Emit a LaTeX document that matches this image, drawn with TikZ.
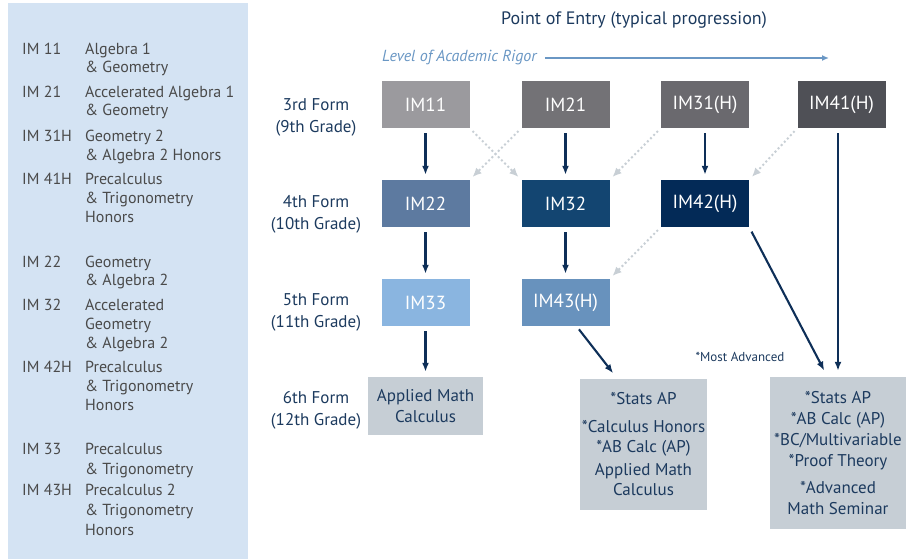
\documentclass[tikz,border=0pt]{standalone}
\usepackage{fontspec}
\setmainfont{PT Sans}
\usetikzlibrary{arrows.meta}
\definecolor{panelblue}{HTML}{D4E3F3}
\definecolor{leggray}{HTML}{4A4A4A}
\definecolor{navy}{HTML}{1C3A5E}
\definecolor{rigorblue}{HTML}{6A97C4}
\definecolor{arrowblue}{HTML}{0E2F58}
\definecolor{dotgray}{HTML}{C8CFD5}
\definecolor{endgray}{HTML}{C6CED5}
\definecolor{imA}{HTML}{9B9A9E}
\definecolor{imB}{HTML}{737276}
\definecolor{imC}{HTML}{6A696E}
\definecolor{imD}{HTML}{4F5056}
\definecolor{imE}{HTML}{5D7AA0}
\definecolor{imF}{HTML}{134571}
\definecolor{imG}{HTML}{032A57}
\definecolor{imH}{HTML}{8AB5E0}
\definecolor{imI}{HTML}{6892BD}
\tikzset{
  imbox/.style = {rectangle, minimum width=88pt, minimum height=47pt,
    inner sep=0pt, text=white, font=\fontsize{19}{22}\selectfont},
  endbox/.style = {rectangle, fill=endgray, inner sep=0pt, text=navy,
    align=center},
  formlabel/.style = {align=center, text=navy,
    font=\fontsize{17}{22}\selectfont},
  legtext/.style = {anchor=base west, inner sep=0pt, text=leggray,
    font=\fontsize{16}{19}\selectfont},
  solidarrow/.style = {-{Latex[length=9pt,width=7pt]}, line width=2.1pt,
    draw=arrowblue, shorten <=5pt, shorten >=5pt},
  dotarrow/.style = {-{Latex[length=9pt,width=8pt]}, line width=2pt,
    draw=dotgray, dash pattern=on 2pt off 2.5pt, shorten <=4pt,
    shorten >=4pt}
}
\begin{document}
\begin{tikzpicture}[x=1pt,y=-1pt]
\useasboundingbox (0,0) rectangle (906,559);
% legend panel
\fill[panelblue] (8,3) rectangle (248,559);
\foreach \y/\t [count=\i] in {55/IM 11, 98/IM 21, 142/IM 31H, 185/IM 41H,
    267/IM 22, 310/IM 32, 372/IM 42H, 454/IM 33, 495/IM 43H}
  \node[legtext] (code\i) at (22,\y) {\t};
\foreach \y/\t [count=\i] in {55/Algebra 1, 73/\& Geometry,
    98/Accelerated Algebra 1, 116/\& Geometry,
    142/Geometry 2, 161/\& Algebra 2 Honors,
    185/Precalculus, 204/\& Trigonometry, 223/Honors,
    267/Geometry, 286/\& Algebra 2,
    310/Accelerated, 329/Geometry, 348/\& Algebra 2,
    372/Precalculus, 391/\& Trigonometry, 410/Honors,
    454/Precalculus, 474/\& Trigonometry,
    495/Precalculus 2, 515/\& Trigonometry, 535/Honors}
  \node[legtext] (desc\i) at (85,\y) {\t};

% heading
\node[text=navy, font=\fontsize{18}{22}\selectfont] (title) at (634,20)
  {Point of Entry (typical progression)};
\node[text=rigorblue, anchor=base west, inner sep=0pt,
  font=\fontsize{16}{19}\selectfont\itshape] (rigor) at (382,62)
  {Level of Academic Rigor};
\coordinate (rigorend) at (829,58);
\draw[rigorblue, line width=1.5pt, -{Latex[length=7pt,width=6pt]}]
  (rigor.east |- rigorend) ++(8,0) -- (rigorend);

% forms
\node[formlabel] (form3) at (316,117) {3rd Form\\(9th Grade)};
\node[formlabel] (form4) at (316,214) {4th Form\\(10th Grade)};
\node[formlabel] (form5) at (316,312) {5th Form\\(11th Grade)};
\node[formlabel] (form6) at (316,410) {6th Form\\(12th Grade)};

% courses
\node[imbox, fill=imA] (im11) at (425.5,104.5) {IM11};
\node[imbox, fill=imB] (im21) at (565.5,104.5) {IM21};
\node[imbox, fill=imC] (im31) at (705,104.5) {IM31(H)};
\node[imbox, fill=imD] (im41) at (841.5,104.5) {IM41(H)};
\node[imbox, fill=imE] (im22) at (425.5,203.5) {IM22};
\node[imbox, fill=imF] (im32) at (565.5,203.5) {IM32};
\node[imbox, fill=imG] (im42) at (705,203.5) {IM42(H)};
\node[imbox, fill=imH] (im33) at (425.5,302.5) {IM33};
\node[imbox, fill=imI] (im43) at (565.5,302.5) {IM43(H)};

% senior year
\node[endbox, minimum width=115pt, minimum height=58pt,
  font=\fontsize{17}{21}\selectfont] (applied) at (425.5,406)
  {Applied Math\\Calculus};
\node[endbox, minimum width=127pt, minimum height=131pt,
  font=\fontsize{17}{20}\selectfont] (midbox) at (643.5,444.5)
  {*Stats AP\\[8pt]*Calculus Honors\\*AB Calc (AP)\\[3pt]Applied Math\\Calculus};
\node[endbox, minimum width=136pt, minimum height=152pt,
  font=\fontsize{17}{21}\selectfont] (topbox) at (838,453)
  {*Stats AP\\*AB Calc (AP)\\*BC/Multivariable\\*Proof Theory\\[6pt]*Advanced\\Math Seminar};
\node[text=navy, font=\fontsize{13}{15}\selectfont] (most) at (740,357)
  {*Most Advanced};

% typical steps
\draw[solidarrow] (im11) -- (im22);
\draw[solidarrow] (im21) -- (im32);
\draw[solidarrow] (im31) -- (im42);
\draw[solidarrow] (im22) -- (im33);
\draw[solidarrow] (im32) -- (im43);
\draw[solidarrow] (im33) -- (applied);
\draw[solidarrow, shorten <=4pt, shorten >=7pt]
  ([xshift=11pt]im43.south) -- ([xshift=-26pt]midbox.north);
\draw[solidarrow, shorten >=7pt]
  (im42.south east) -- ([xshift=-10.5pt]topbox.north);
\draw[solidarrow, shorten >=6pt]
  (topbox.north |- im41.south) -- (topbox.north);

% other entries
\draw[dotarrow] (im11.south east) -- (im32.north west);
\draw[dotarrow] (im21.south west) -- (im22.north east);
\draw[dotarrow] (im31.south west) -- (im32.north east);
\draw[dotarrow] (im41.south west) -- (im42.north east);
\draw[dotarrow] (im42.south west) -- (im43.north east);
\end{tikzpicture}
\end{document}
